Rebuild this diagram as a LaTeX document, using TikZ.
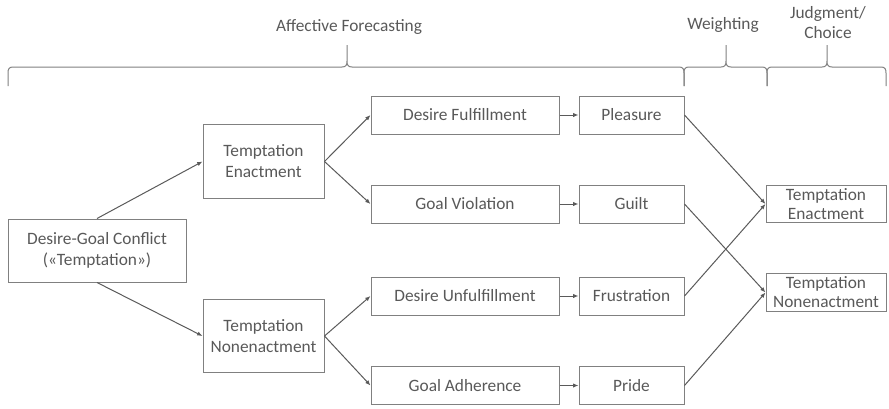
\documentclass[tikz,border=0pt]{standalone}
\usepackage{fontspec}
\setmainfont{Carlito}
\usepackage{tikz}
\usetikzlibrary{arrows.meta}
\definecolor{txtgray}{HTML}{595959}
\definecolor{boxgray}{HTML}{808080}
\definecolor{linegray}{HTML}{5A5A5A}
\tikzset{
  box/.style={
    draw=boxgray,fill=white,line width=.75pt,inner sep=0pt,
    text=txtgray,align=center,font=\fontsize{13}{15.75}\selectfont
  },
  actbox/.style={box,minimum width=90.75pt,minimum height=55pt},
  pathbox/.style={box,minimum width=141pt,minimum height=28.5pt},
  feelbox/.style={box,minimum width=78.75pt,minimum height=28.5pt},
  choicebox/.style={
    box,minimum width=90pt,minimum height=28pt,
    font=\fontsize{13}{14.25}\selectfont
  },
  heading/.style={text=txtgray,align=center,font=\fontsize{13}{15}\selectfont},
  bracket/.style={draw=boxgray,line width=.75pt},
  arrow/.style={-{Latex[length=4pt,width=3.2pt]},draw=linegray,line width=.75pt}
}

\begin{document}
\begin{tikzpicture}[x=.75pt,y=-.75pt]
\useasboundingbox (0,0) rectangle (889,408);

% top brackets
\foreach \xa/\xm/\xb in {8/347/684, 684/726/767, 767/827/886}
  \draw[bracket] (\xa,86) -- (\xa,73)
    .. controls (\xa,69) and (\xa+1,67) .. (\xa+5,67) -- (\xm-5,67)
    .. controls (\xm-1,67) and (\xm,65) .. (\xm,61) -- (\xm,45)
    (\xm,61) .. controls (\xm,65) and (\xm+1,67) .. (\xm+5,67) -- (\xb-5,67)
    .. controls (\xb-1,67) and (\xb,69) .. (\xb,73) -- (\xb,86);

\node[heading] (forecast) at (349,27) {Affective Forecasting};
\node[heading] (weighting) at (723,25) {Weighting};
\node[heading] (judgment) at (828,23) {Judgment/\\Choice};

% decision tree
\node[box,minimum width=133.5pt,minimum height=47.25pt] (conflict) at (97,250.5)
{Desire-Goal Conflict\\(«Temptation»)};

\node[actbox] (enact) at (263.5,161.5) {Temptation\\Enactment};
\node[actbox] (nonenact) at (263.5,336) {Temptation\\Nonenactment};

\node[pathbox] (fulfil) at (465,115) {Desire Fulfillment};
\node[pathbox] (violation) at (465,204) {Goal Violation};
\node[pathbox] (unfulfil) at (465,296) {Desire Unfulfillment};
\node[pathbox] (adherence) at (465,385.5) {Goal Adherence};

\node[feelbox] (pleasure) at (631.5,115) {Pleasure};
\node[feelbox] (guilt) at (631.5,204) {Guilt};
\node[feelbox] (frustration) at (631.5,296) {Frustration};
\node[feelbox] (pride) at (631.5,385.5) {Pride};

\node[choicebox] (choiceA) at (826,204) {Temptation\\Enactment};
\node[choicebox] (choiceB) at (826,292.5) {Temptation\\Nonenactment};

\draw[arrow] (conflict.north)--(enact.west);
\draw[arrow] (conflict.south)--(nonenact.west);
\draw[arrow] (enact.east)--(fulfil.west);
\draw[arrow] (enact.east)--(violation.west);
\draw[arrow] (nonenact.east)--(unfulfil.west);
\draw[arrow] (nonenact.east)--(adherence.west);

\draw[arrow] (fulfil)--(pleasure);
\draw[arrow] (violation)--(guilt);
\draw[arrow] (unfulfil)--(frustration);
\draw[arrow] (adherence)--(pride);

\draw[arrow] (pleasure.east)--(choiceA.west);
\draw[arrow] (guilt.east)--(choiceB.west);
\draw[arrow] (frustration.east)--(choiceA.west);
\draw[arrow] (pride.east)--(choiceB.west);
\end{tikzpicture}
\end{document}
